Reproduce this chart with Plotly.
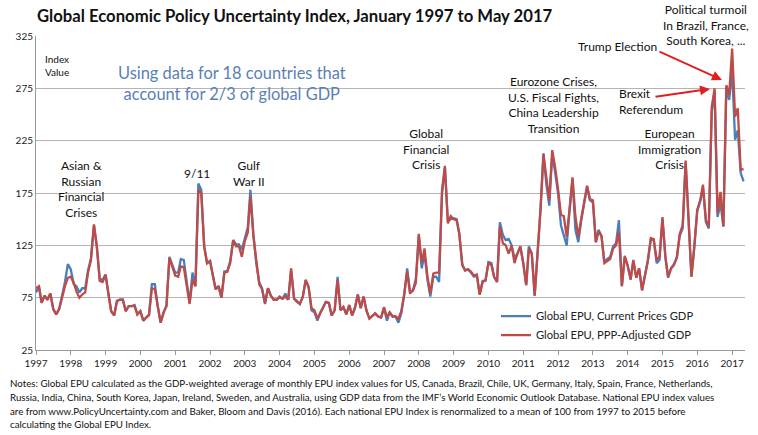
import pandas as pd
import plotly.graph_objects as go

# Monthly dates Jan 1997 - May 2017
dates = pd.date_range("1997-01-01", "2017-05-01", freq="MS")

ppp_gdp = [
    84, 86, 70, 77, 73, 79, 64, 59, 64, 75, 86, 94,
    95, 89, 81, 75, 78, 80, 99, 111, 145, 124, 91, 90,
    97, 78, 62, 58, 72, 73, 73, 62, 67, 67, 67, 59,
    62, 53, 56, 58, 84, 83, 67, 51, 61, 67, 113, 104,
    96, 95, 105, 104, 86, 69, 92, 86, 178, 175, 124, 108,
    110, 96, 83, 86, 75, 99, 100, 108, 130, 124, 124, 114,
    129, 137, 172, 134, 108, 88, 83, 70, 84, 77, 73, 73,
    76, 74, 76, 73, 103, 74, 71, 69, 76, 92, 85, 65,
    63, 55, 60, 66, 71, 70, 58, 63, 92, 63, 66, 59,
    68, 58, 65, 78, 65, 76, 63, 55, 58, 60, 57, 56,
    66, 56, 61, 57, 57, 55, 62, 78, 100, 79, 82, 89,
    136, 108, 122, 95, 79, 98, 99, 99, 178, 201, 146, 153,
    150, 149, 136, 106, 101, 102, 100, 96, 97, 78, 90, 92,
    108, 106, 95, 90, 143, 127, 125, 117, 125, 108, 117, 124,
    108, 87, 122, 117, 77, 114, 158, 212, 187, 168, 216, 200,
    179, 154, 153, 133, 160, 190, 153, 133, 151, 168, 182, 169,
    168, 128, 138, 134, 108, 110, 112, 122, 125, 138, 86, 115,
    105, 92, 111, 94, 103, 82, 97, 111, 132, 131, 111, 114,
    152, 114, 95, 103, 106, 114, 136, 144, 206, 149, 95, 124,
    159, 168, 183, 149, 143, 257, 275, 156, 176, 143, 278, 269,
    313, 248, 256, 197, 198,
]

current_gdp = [
    80, 86, 70, 77, 73, 79, 64, 59, 64, 77, 90, 107,
    102, 88, 86, 80, 84, 84, 101, 113, 144, 124, 93, 92,
    97, 78, 62, 58, 72, 73, 73, 62, 67, 67, 68, 59,
    62, 53, 56, 59, 88, 88, 67, 51, 61, 67, 114, 106,
    99, 99, 112, 111, 88, 70, 99, 86, 184, 178, 124, 108,
    110, 96, 83, 86, 75, 100, 100, 110, 130, 126, 126, 121,
    131, 142, 178, 136, 108, 90, 84, 69, 84, 77, 73, 73,
    75, 74, 79, 73, 101, 74, 72, 69, 76, 92, 85, 63,
    61, 53, 60, 66, 71, 70, 58, 63, 95, 63, 66, 59,
    68, 58, 65, 78, 65, 76, 62, 55, 58, 60, 57, 56,
    65, 53, 61, 57, 57, 51, 60, 78, 103, 80, 82, 93,
    134, 103, 117, 92, 76, 95, 95, 90, 175, 199, 148, 150,
    151, 150, 136, 107, 101, 102, 99, 95, 96, 78, 91, 91,
    109, 108, 95, 90, 147, 135, 130, 131, 125, 113, 117, 124,
    108, 87, 124, 117, 77, 115, 160, 213, 183, 163, 212, 195,
    175, 144, 135, 125, 158, 188, 140, 128, 149, 166, 181, 168,
    166, 128, 140, 134, 109, 112, 114, 124, 127, 149, 86, 114,
    106, 93, 110, 94, 103, 82, 96, 110, 131, 130, 108, 111,
    150, 113, 94, 103, 107, 113, 134, 141, 204, 148, 95, 123,
    158, 167, 180, 147, 141, 252, 272, 152, 165, 143, 275, 264,
    292, 226, 235, 194, 186,
]

series_names = ["Global EPU, Current Prices GDP", "Global EPU, PPP-Adjusted GDP"]
series_colors = ["#4a7ebb", "#be4b48"]

year_ticks = pd.date_range("1997-01-01", "2017-01-01", freq="YS")
y_ticks = [25, 75, 125, 175, 225, 275, 325]

title_text = "Global Economic Policy Uncertainty Index, January 1997 to May 2017"
notes_lines = [
    "Notes: Global EPU calculated as the GDP-weighted average of monthly EPU index values for US, Canada, Brazil, Chile, UK, Germany, Italy, Spain, France, Netherlands,",
    "Russia, India, China, South Korea, Japan, Ireland, Sweden, and Australia, using GDP data from the IMF\u2019s World Economic Outlook Database. National EPU index values",
    "are from www.PolicyUncertainty.com and Baker, Bloom and Davis (2016). Each national EPU Index is renormalized to a mean of 100 from 1997 to 2015 before",
    "calculating the Global EPU Index.",
]

W, H = 758, 435
L, R, T, B = 36, 745, 36, 350.5
FONT = "Lato"


def px(x):
    return (x - L) / (R - L)


def py(y):
    return (B - y) / (B - T)


fig = go.Figure()
for vals, name, col in zip([current_gdp, ppp_gdp], series_names, series_colors):
    fig.add_trace(go.Scatter(x=dates, y=vals, mode="lines", name=name,
                             line=dict(color=col, width=2.3)))

fig.update_layout(
    width=W, height=H,
    margin=dict(l=L, r=W - R, t=T, b=H - B),
    paper_bgcolor="white", plot_bgcolor="white",
    font=dict(family=FONT, color="#222"),
    showlegend=True,
    legend=dict(x=px(496), y=py(302), xanchor="left", yanchor="top",
                bgcolor="rgba(0,0,0,0)", font=dict(size=11.2, family=FONT, color="#222"),
                tracegroupgap=0, itemwidth=30),
)
fig.update_xaxes(
    range=["1997-01-01", "2017-05-16"],
    tickvals=list(year_ticks), tickformat="%Y",
    ticks="outside", ticklen=4, tickcolor="#999",
    showline=True, linecolor="#999", linewidth=1,
    showgrid=False, tickfont=dict(size=10, family=FONT, color="#222"),
)
fig.update_yaxes(
    range=[25, 325], tickvals=y_ticks,
    showgrid=True, gridcolor="#b4b4b4", gridwidth=1,
    showline=True, linecolor="#999", linewidth=1,
    ticks="", tickfont=dict(size=10, family=FONT, color="#222"),
    zeroline=False,
)

ann = []


def text(x, y, s, size=12, color="#111", align="center", xanchor="center", bold=False):
    ann.append(dict(x=px(x), y=py(y), xref="paper", yref="paper", text=s, showarrow=False,
                    font=dict(size=size, color=color, family=FONT,
                              weight="bold" if bold else "normal"),
                    align=align, xanchor=xanchor, yanchor="middle"))


text(35, 16, title_text, size=16.7, xanchor="left", bold=True)
text(43, 66, "Index<br>Value", size=10, xanchor="left", align="left")
text(232, 83, "Using data for 18 countries that<br>account for 2/3 of global GDP", size=16.4, color="#5a80b8")
text(81, 189.5, "Asian &<br>Russian<br>Financial<br>Crises")
text(197, 174, "9/11")
text(249, 174, "Gulf<br>War II")
text(426, 149, "Global<br>Financial<br>Crisis")
text(553, 105, "Eurozone Crises,<br>U.S. Fiscal Fights,<br>China Leadership<br>Transition")
text(617, 102, "Brexit<br>Referendum", xanchor="left", align="left")
text(617, 47, "Trump Election")
text(706, 24.5, "Political turmoil<br>In Brazil, France,<br>South Korea, ...")
text(669, 149, "European<br>Immigration<br>Crisis")

for i, line in enumerate(notes_lines):
    text(8, 384 + i * 13.7, line, size=9.72, xanchor="left", align="left")

# arrows (tail offsets in pixels)
for (x0, y0, x1, y1) in [(654, 97, 710, 89), (658, 51, 722, 80)]:
    ann.append(dict(x=px(x1), y=py(y1), ax=x0 - x1, ay=y0 - y1, xref="paper", yref="paper",
                    axref="pixel", ayref="pixel", showarrow=True, arrowhead=2,
                    arrowsize=1, arrowwidth=2, arrowcolor="#e02020", text=""))

fig.update_layout(annotations=ann)
fig.write_html("out.html", config={"displayModeBar": False},
               post_script="document.body.style.margin='0';")
